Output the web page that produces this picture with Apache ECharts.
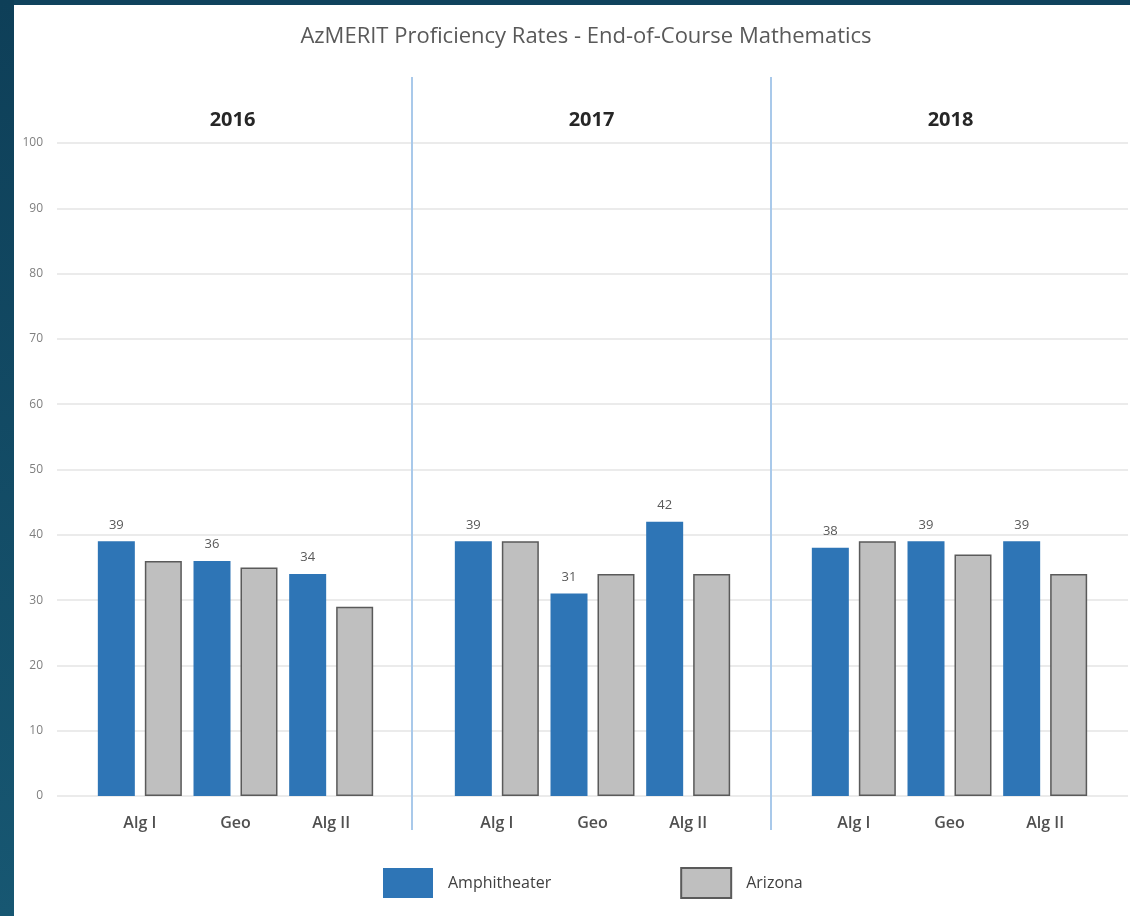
<!DOCTYPE html>
<html>
<head>
<meta charset="utf-8">
<script src="https://cdn.jsdelivr.net/npm/echarts@6/dist/echarts.min.js"></script>
<style>
  html, body { margin: 0; padding: 0; }
  #chart { width: 1130px; height: 916px; }
</style>
</head>
<body>
<div id="chart"></div>
<script>
// years and courses
const years = ['2016', '2017', '2018'];
const courses = ['Alg I', 'Geo', 'Alg II'];

// proficiency rates (%)
const amphitheater2016 = [39, 36, 34];
const amphitheater2017 = [39, 31, 42];
const amphitheater2018 = [38, 39, 39];
const arizona2016 = [36, 35, 29];
const arizona2017 = [39, 34, 34];
const arizona2018 = [39, 37, 34];

const amphByYear = [amphitheater2016, amphitheater2017, amphitheater2018];
const azByYear = [arizona2016, arizona2017, arizona2018];

const FONT = "'Open Sans', sans-serif";
const BLUE = '#2e75b6';
const GREY = '#bfbfbf';

const plotTop = 143;
const plotHeight = 653;
const barLefts = [92, 449, 806];
const barWidthPx = 287;

let grids = [
    // frame with year separators
    { left: 53, width: 1080, top: 77, height: 753 },
    // value grid lines
    { left: 57, right: 2, top: plotTop, height: plotHeight }
];
let xAxes = [
    {
        gridIndex: 0, type: 'category', position: 'top', data: years,
        axisLine: { show: false }, axisTick: { show: false },
        axisLabel: { inside: true, margin: 33, fontFamily: FONT, fontSize: 20, fontWeight: 'bold', color: '#262626' },
        splitLine: { show: true, showMinLine: false, showMaxLine: false, interval: 0,
            lineStyle: { color: '#a9c9ea', width: 2 } }
    },
    { gridIndex: 1, type: 'category', data: [''], show: false }
];
let yAxes = [
    { gridIndex: 0, type: 'value', show: false, splitLine: { show: false } },
    {
        gridIndex: 1, type: 'value', min: 0, max: 100, interval: 10,
        axisLine: { show: false }, axisTick: { show: false },
        axisLabel: { margin: 14, fontFamily: FONT, fontSize: 12, color: '#7f7f7f' },
        splitLine: { lineStyle: { color: '#e4e4e4', width: 1.5 } }
    }
];
let series = [];

years.forEach(function (y, i) {
    let g = grids.length;
    grids.push({ left: barLefts[i], width: barWidthPx, top: plotTop, height: plotHeight });
    xAxes.push({
        gridIndex: g, type: 'category', data: courses,
        axisLine: { show: false }, axisTick: { show: false },
        axisLabel: { margin: 19, fontFamily: FONT, fontSize: 16, fontWeight: 600, color: '#505050' }
    });
    yAxes.push({ gridIndex: g, type: 'value', min: 0, max: 100, show: false, splitLine: { show: false } });
    series.push({
        name: 'Amphitheater', type: 'bar', xAxisIndex: g, yAxisIndex: g,
        data: amphByYear[i], barWidth: 37, barGap: '27%',
        itemStyle: { color: BLUE },
        label: { show: true, position: 'top', distance: 10, fontFamily: FONT, fontSize: 13, color: '#595959' }
    });
    series.push({
        name: 'Arizona', type: 'bar', xAxisIndex: g, yAxisIndex: g,
        data: azByYear[i], barWidth: 37, barGap: '27%',
        itemStyle: { color: GREY, borderColor: '#5a5a5a', borderWidth: 1.5 }
    });
});

let option = {
    backgroundColor: '#ffffff',
    animation: false,
    title: {
        text: 'AzMERIT Proficiency Rates - End-of-Course Mathematics',
        left: 581, top: 21, textAlign: 'center',
        textStyle: { fontFamily: FONT, fontSize: 22, fontWeight: 'normal', color: '#595959' }
    },
    legend: {
        data: ['Amphitheater', 'Arizona'],
        left: 378, top: 862,
        icon: 'rect',
        itemWidth: 50, itemHeight: 30, itemGap: 129,
        textStyle: { fontFamily: FONT, fontSize: 16, color: '#404040', padding: [0, 0, 0, 10] }
    },
    graphic: [
        { type: 'rect', left: 0, top: 0, shape: { width: 1130, height: 5 }, style: { fill: '#10435d' }, silent: true },
        { type: 'rect', left: 0, top: 0, shape: { width: 14, height: 916 },
          style: { fill: new echarts.graphic.LinearGradient(0, 0, 0, 1, [
              { offset: 0, color: '#0e3f58' }, { offset: 1, color: '#175772' }]) }, silent: true }
    ],
    grid: grids,
    xAxis: xAxes,
    yAxis: yAxes,
    series: series
};

var myChart = echarts.init(document.getElementById('chart'));
myChart.setOption(option);
</script>
</body>
</html>
